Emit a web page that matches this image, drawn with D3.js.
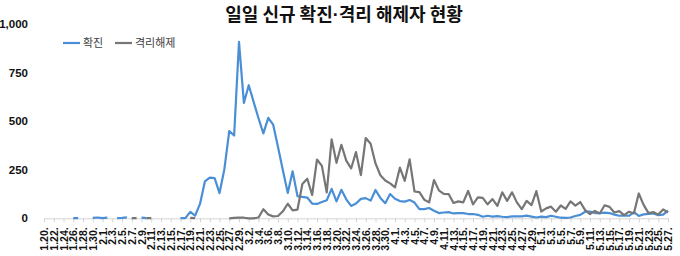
<!DOCTYPE html>
<html>
<head>
<meta charset="utf-8">
<script src="https://cdn.jsdelivr.net/npm/d3@7"></script>
<style>
  body { margin: 0; background: #fff; }
  svg { display: block; }
</style>
</head>
<body>
<div id="chart"></div>
<script>
// month, first day, last day -> daily categories 1.20 ... 5.27
const monthRanges = [[1, 20, 31], [2, 1, 29], [3, 1, 31], [4, 1, 30], [5, 1, 27]];
const dates = [];
monthRanges.forEach(([m, a, b]) => { for (let d = a; d <= b; d++) dates.push(m + "." + d); });

// 일일 신규 확진 (null = no case that day)
const confirmed = [
  // Jan 20-31
  1, null, null, null, 1, null, 1, 1, null, null, 2, 4,
  // Feb
  1, 3, null, 1, 2, 5, null, null, 3, 1, null, null, null, null, null, null,
  1, 1, 33, 14, 74, 190, 210, 207, 130, 253, 449, 427, 909,
  // Mar
  595, 686, 600, 516, 438, 518, 483, 367, 248, 131, 242, 114, 110, 107, 76,
  74, 84, 93, 152, 87, 147, 98, 64, 76, 100, 104, 91, 146, 105, 78, 125,
  // Apr
  101, 89, 86, 94, 81, 47, 47, 53, 39, 27, 30, 32, 25, 27, 27,
  22, 22, 18, 8, 13, 9, 11, 8, 6, 10, 10, 10, 14, 9, 4,
  // May
  9, 6, 13, 8, 3, 2, 4, 12, 18, 34, 35, 27, 26, 29, 27,
  19, 13, 15, 13, 32, 12, 20, 23, 25, 16, 19, 40
];

// 격리해제
const released = [
  // Jan 20-31
  null, null, null, null, null, null, null, null, null, null, null, null,
  // Feb
  null, null, null, null, null, null, 1, 1, null, 1, 1, null, null, null, null,
  null, null, null, 2, 1, null, null, null, null, null, null, 0, 2, 3,
  // Mar
  3, 0, 0, 4, 47, 20, 10, 12, 36, 75, 41, 45, 177, 204, 120,
  303, 270, 133, 407, 286, 379, 297, 257, 341, 223, 414, 384, 283, 222, 195, 180,
  // Apr
  159, 261, 193, 304, 138, 135, 96, 82, 197, 144, 126, 125, 79, 87, 82,
  141, 72, 108, 105, 72, 99, 64, 134, 90, 134, 82, 47, 90, 68, 140,
  // May
  35, 51, 60, 34, 66, 49, 87, 65, 84, 42, 22, 38, 25, 67, 59,
  30, 37, 16, 34, 25, 128, 69, 27, 32, 19, 46, 30
];

const yTicks = [0, 250, 500, 750, 1000];
const xLabels = dates.filter((d, i) => i % 2 === 0);

const series = [
  { name: "확진", values: confirmed, color: "#4a8fd6" },
  { name: "격리해제", values: released, color: "#767676" }
];

const width = 680, height = 256;

const svg = d3.select("#chart")
  .append("svg")
  .attr("width", width)
  .attr("height", height);

svg.append("rect").attr("width", width).attr("height", height).attr("fill", "#fff");

const x = d3.scalePoint()
  .domain(dates)
  .range([44, 668]);

const y = d3.scaleLinear()
  .domain([0, 1000])
  .range([218.3, 24.3]);

// title (middle dot from a latin font so it stays narrow)
const title = svg.append("text")
  .attr("x", 344)
  .attr("y", 21)
  .attr("text-anchor", "middle")
  .style("font-family", "'Noto Sans CJK KR', sans-serif")
  .style("font-weight", "bold")
  .style("font-size", "18px")
  .attr("fill", "#111");
title.append("tspan").text("일일 신규 확진");
title.append("tspan").style("font-family", "'Liberation Sans', Arial, sans-serif").text("·");
title.append("tspan").text("격리 해제자 현황");

// y axis (labels only)
const yAxis = svg.append("g")
  .attr("transform", "translate(31,0)")
  .call(d3.axisLeft(y).tickValues(yTicks).tickSize(0).tickPadding(3).tickFormat(d3.format(",")));
yAxis.select(".domain").remove();
yAxis.selectAll("text")
  .style("font-family", "'Liberation Sans', Arial, sans-serif")
  .style("font-weight", "bold")
  .style("font-size", "11.5px")
  .attr("fill", "#111");

// x axis
const xAxis = svg.append("g")
  .attr("transform", `translate(0,${y(0)})`)
  .call(d3.axisBottom(x).tickValues(xLabels).tickSize(4).tickSizeOuter(0).tickFormat(d => d + "."));
xAxis.select(".domain").attr("stroke", "#d4d4d4");
xAxis.selectAll(".tick line").attr("stroke", "#d4d4d4");
xAxis.selectAll("text")
  .attr("transform", "rotate(-90)")
  .attr("text-anchor", "end")
  .attr("x", -9)
  .attr("y", 0)
  .attr("dy", "0.35em")
  .style("font-family", "'Liberation Sans', Arial, sans-serif")
  .style("font-weight", "bold")
  .style("font-size", "10.5px")
  .attr("fill", "#111");

// lines
const line = d3.line()
  .defined(d => d != null)
  .x((d, i) => x(dates[i]))
  .y(d => y(d));

svg.selectAll(".series")
  .data(series)
  .join("path")
  .attr("class", "series")
  .attr("fill", "none")
  .attr("stroke", d => d.color)
  .attr("stroke-width", 2.2)
  .attr("stroke-linejoin", "round")
  .attr("d", d => line(d.values));

// legend
const legend = svg.append("g");
const legendX = [63, 115];
series.forEach((s, i) => {
  legend.append("line")
    .attr("x1", legendX[i]).attr("x2", legendX[i] + 17)
    .attr("y1", 43).attr("y2", 43)
    .attr("stroke", s.color)
    .attr("stroke-width", 2.2);
  legend.append("text")
    .attr("x", legendX[i] + 20)
    .attr("y", 47)
    .style("font-family", "'Noto Sans CJK KR', sans-serif")
    .style("font-size", "11px")
    .attr("fill", "#404040")
    .text(s.name);
});
</script>
</body>
</html>
